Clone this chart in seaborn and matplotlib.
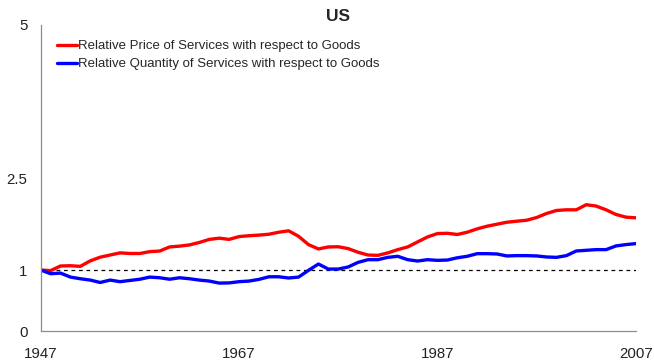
import matplotlib
matplotlib.use("Agg")
import matplotlib.pyplot as plt
import seaborn as sns
import numpy as np
import pandas as pd

years = list(range(1947, 2008))

relative_price = [
    1.00, 0.99, 1.066, 1.07, 1.06, 1.15, 1.21, 1.245, 1.28, 1.27,
    1.27, 1.30, 1.31, 1.377, 1.39, 1.41, 1.45, 1.50, 1.52, 1.50,
    1.546, 1.56, 1.57, 1.584, 1.617, 1.64, 1.55, 1.415, 1.344, 1.377,
    1.38, 1.35, 1.29, 1.245, 1.24, 1.28, 1.333, 1.377, 1.459, 1.54,
    1.595, 1.60, 1.58, 1.617, 1.672, 1.715, 1.748, 1.78, 1.797, 1.813,
    1.857, 1.923, 1.972, 1.983, 1.983, 2.066, 2.044, 1.983, 1.907, 1.863,
    1.852,
]

relative_quantity = [
    1.00, 0.94, 0.95, 0.885, 0.858, 0.836, 0.797, 0.836, 0.81, 0.83,
    0.85, 0.885, 0.874, 0.85, 0.874, 0.858, 0.836, 0.82, 0.787, 0.79,
    0.81, 0.82, 0.847, 0.89, 0.89, 0.87, 0.885, 0.995, 1.098, 1.016,
    1.016, 1.05, 1.125, 1.169, 1.169, 1.207, 1.224, 1.169, 1.147, 1.169,
    1.158, 1.163, 1.20, 1.224, 1.267, 1.267, 1.262, 1.23, 1.235, 1.235,
    1.23, 1.213, 1.207, 1.235, 1.311, 1.322, 1.333, 1.333, 1.393, 1.415,
    1.431,
]

series_names = [
    "Relative Price of Services with respect to Goods",
    "Relative Quantity of Services with respect to Goods",
]
series_colors = ["#ff0000", "#0000ff"]

x_ticks = [1947, 1967, 1987, 2007]
y_ticks = [0, 1, 2.5, 5]
y_tick_labels = ["0", "1", "2.5", "5"]

df = pd.DataFrame({
    "year": years * 2,
    "value": relative_price + relative_quantity,
    "series": [series_names[0]] * len(years) + [series_names[1]] * len(years),
})

sns.set_style("white")
plt.rcParams["font.family"] = ["Liberation Sans", "DejaVu Sans"]

fig = plt.figure(figsize=(6.54, 3.63), dpi=100)
ax = fig.add_axes([0.0622, 0.0873, 0.910, 0.844])

sns.lineplot(data=df, x="year", y="value", hue="series",
             palette=series_colors, hue_order=series_names,
             linewidth=2.4, ax=ax, legend=False)

ax.axhline(1, color="black", linestyle=(0, (3, 3)), linewidth=0.9, zorder=1)

ax.set_xlim(1947, 2007)
ax.set_ylim(0, 5)
ax.set_xticks(x_ticks)
ax.set_xticklabels([str(t) for t in x_ticks])
ax.set_yticks(y_ticks)
ax.set_yticklabels(y_tick_labels)
ax.set_xlabel("")
ax.set_ylabel("")

for side in ["top", "right"]:
    ax.spines[side].set_visible(False)
for side in ["left", "bottom"]:
    ax.spines[side].set_color("#8c8c8c")
    ax.spines[side].set_linewidth(0.9)

ax.tick_params(axis="both", which="major", direction="out", color="#8c8c8c",
               length=4.5, width=0.9, labelsize=10.8, labelcolor="#222222")
ax.tick_params(axis="x", pad=7)
ax.tick_params(axis="y", pad=5)

ax.set_title("US", fontsize=12.5, fontweight="bold", pad=3)

handles = [plt.Line2D([], [], color=c, linewidth=2.4) for c in series_colors]
ax.legend(handles, series_names, loc="upper left",
          bbox_to_anchor=(57 / 654, 1 - 40 / 363), bbox_transform=fig.transFigure,
          frameon=False, fontsize=9.5, handlelength=1.5, handletextpad=0.1,
          borderaxespad=0, borderpad=0, labelspacing=0.45)

fig.savefig("out.png", dpi=100)
